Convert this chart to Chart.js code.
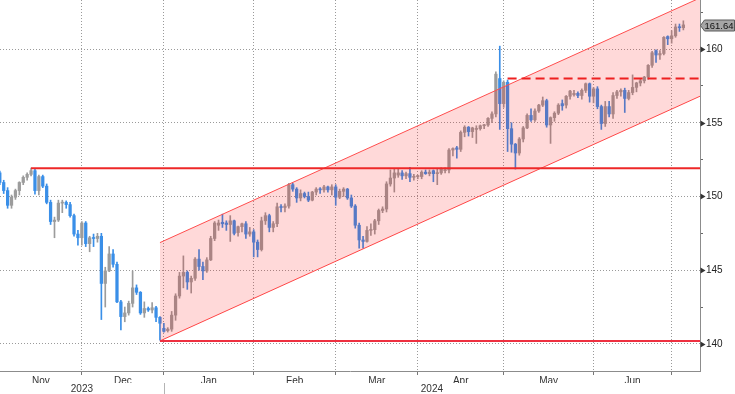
<!DOCTYPE html>
<html><head><meta charset="utf-8">
<script src="https://cdn.jsdelivr.net/npm/chart.js@4.4.1/dist/chart.umd.min.js"></script>
<style>html,body{margin:0;padding:0;background:#fff;overflow:hidden}#wrap{width:735px;height:394px}</style>
</head><body><div id="wrap"><canvas id="c" width="735" height="394"></canvas></div>
<script>
// Daily USD/JPY candles, one per weekday from Nov 1 2023 (index 0) to Jul 3 2024 (index 175)
const opens = [
151.6,150.95,150.4,149.4,149.95,150.4,150.95,151.3,151.5,151.75,
150.4,151.35,150.7,149.6,148.3,148.4,149.55,149.6,149.45,148.7,
147.45,147.2,148.2,146.8,147.2,147.15,147.3,144.1,144.95,146.1,
145.4,142.85,141.85,142.1,142.75,143.8,143.5,142.1,142.4,142.3,
142.45,141.8,141.05,140.9,141.0,141.95,143.25,144.6,144.85,144.2,
144.45,145.75,145.25,144.95,145.7,147.15,148.05,148.25,148.2,148.1,
148.35,147.55,147.95,148.15,147.45,147.6,146.9,146.4,148.35,148.7,
147.9,148.15,149.3,149.25,149.35,150.8,150.5,149.9,150.2,150.0,
149.75,150.3,150.5,150.45,150.65,150.45,150.65,149.95,150.35,150.5,
149.9,149.35,148.05,147.05,146.95,147.7,147.75,148.35,149.05,149.15,
150.85,151.25,151.45,151.6,151.4,151.55,151.3,151.35,151.35,151.65,
151.55,151.75,151.55,151.6,151.75,151.8,153.15,153.3,153.2,154.35,
154.7,154.4,154.55,154.6,154.8,154.85,155.3,155.6,158.0,156.3,
157.75,154.6,153.55,152.95,153.9,154.65,155.5,155.2,155.8,156.2,
156.5,154.85,155.35,155.65,156.3,156.2,156.8,156.9,157.0,156.85,
157.2,157.65,156.8,157.3,156.1,154.95,156.1,155.6,156.85,157.1,
157.2,156.65,157.05,157.4,157.7,157.85,158.1,158.9,159.9,159.6,
159.7,160.85,160.7,160.9,161.5,161.45];
const highs = [
151.72,151.1,150.6,150.1,150.5,151.0,151.4,151.6,151.92,151.85,
151.45,151.45,150.85,149.75,148.6,149.75,149.75,149.7,149.6,148.8,
147.7,148.3,148.3,147.3,147.45,147.5,147.5,145.2,146.6,146.4,
145.55,142.95,142.5,142.9,144.95,144.0,143.55,142.85,142.5,142.8,
142.55,141.85,141.4,141.1,142.2,143.4,144.85,145.97,144.95,144.6,
145.85,146.4,145.55,145.85,147.3,148.3,148.4,148.8,148.35,148.7,
148.4,148.0,148.2,148.3,147.9,147.75,147.05,148.6,148.9,148.8,
148.3,149.55,149.45,149.5,150.9,150.9,150.6,150.45,150.3,150.3,
150.35,150.6,150.6,150.75,150.7,150.8,150.8,150.5,150.6,150.55,
150.1,149.45,148.2,147.3,147.95,148.15,148.45,149.15,149.3,151.0,
151.8,151.85,151.85,151.75,151.65,151.97,151.5,151.45,151.75,151.8,
151.8,151.8,151.85,151.95,151.95,153.25,153.3,153.4,154.45,154.8,
154.75,154.7,154.8,154.85,154.9,155.35,155.75,158.45,160.2,157.85,
157.9,155.0,153.6,154.0,154.75,155.6,155.95,155.95,156.25,156.75,
156.6,155.4,155.75,156.3,156.55,156.85,157.2,157.2,157.1,157.3,
157.7,157.7,157.4,157.45,156.2,156.45,156.45,157.05,157.2,157.3,
157.35,157.2,158.25,157.75,158.0,158.15,158.95,159.85,159.95,159.9,
160.85,160.9,161.25,161.7,161.7,161.92];
const lows = [
150.8,150.2,149.2,149.2,149.8,150.1,150.8,151.1,151.4,150.15,
150.1,150.6,149.5,148.1,147.2,148.3,148.9,149.2,148.6,147.3,
146.7,146.7,146.6,146.25,146.6,146.9,141.65,142.5,144.9,145.2,
142.8,140.95,141.5,141.95,142.5,143.35,142.0,141.8,142.2,142.1,
141.5,140.25,140.8,140.8,140.85,141.6,143.1,143.8,143.7,143.45,
144.3,145.0,144.35,144.85,145.65,147.0,147.7,147.9,147.7,146.95,
147.4,147.3,147.6,147.15,147.3,145.9,145.9,146.3,148.1,147.6,
147.6,147.95,148.95,148.95,149.2,150.35,149.6,149.7,149.9,149.65,
149.7,150.1,150.2,150.3,150.3,150.1,149.4,149.85,150.0,149.8,
149.25,147.85,146.5,146.5,146.9,147.35,147.45,148.1,148.9,148.95,
150.7,150.3,151.3,151.15,151.2,151.0,151.1,151.2,151.2,151.5,
151.4,151.0,150.8,151.5,151.6,151.6,152.75,152.6,153.05,154.05,
154.1,154.0,153.6,154.5,154.6,154.75,155.0,155.4,154.55,156.05,
153.05,153.0,151.86,152.8,153.7,154.6,155.1,155.1,155.7,156.1,
154.7,153.6,155.1,155.55,155.85,156.0,156.6,156.8,156.7,156.6,
157.05,156.4,156.35,155.95,154.55,154.75,155.4,155.3,156.65,156.8,
155.7,156.55,156.9,157.1,157.5,157.7,157.95,158.75,159.1,159.3,
159.6,160.3,160.4,160.8,161.2,161.3];
const closes = [
150.95,150.4,149.4,149.95,150.4,150.95,151.3,151.5,151.75,150.4,
151.35,150.7,149.6,148.3,148.4,149.55,149.6,149.45,148.7,147.45,
147.2,148.2,146.8,147.2,147.15,147.3,144.1,144.95,146.1,145.4,
142.85,141.85,142.1,142.75,143.8,143.5,142.1,142.4,142.3,142.45,
141.8,141.4,140.85,141.0,141.95,143.25,144.6,144.85,144.2,144.45,
145.75,145.25,144.95,145.7,147.15,148.2,148.2,148.15,148.1,148.35,
147.5,147.95,148.15,147.45,147.6,146.9,146.4,148.35,148.7,147.9,
148.15,149.3,149.25,149.35,150.8,150.5,149.9,150.2,150.0,149.75,
150.3,150.5,150.45,150.65,150.45,150.65,149.95,150.35,150.5,149.9,
149.35,148.05,147.05,146.95,147.7,147.75,148.35,149.05,149.15,150.85,
151.25,151.6,151.6,151.4,151.55,151.3,151.35,151.4,151.65,151.55,
151.65,151.55,151.6,151.85,151.8,153.15,153.25,153.2,154.35,154.7,
154.4,154.65,154.6,154.8,154.85,155.3,155.6,158.3,156.3,157.75,
154.6,153.55,152.95,153.9,154.65,155.5,155.2,155.8,156.2,156.5,
154.85,155.35,155.65,156.2,156.15,156.8,157.15,157.0,156.85,157.2,
157.65,156.8,157.3,156.1,154.95,156.1,155.6,156.85,157.1,157.2,
156.65,157.05,157.4,157.7,157.85,158.1,158.9,159.75,159.6,159.7,
160.8,160.7,160.9,161.5,161.45,161.64];

const monthLabels = ['Nov','Dec','Jan','Feb','Mar','Apr','May','Jun'];
const monthStarts = [0,22,43,66,87,108,130,153,173]; // first weekday index of each month (last = Jul)
const yearLabels = ['2023','2024'];
const yearStarts = [0,43];
const yTickValues = [140,142.5,145,147.5,150,152.5,155,157.5,160,162.5];

// drawn technical levels
const resistanceLevel = 151.92, resistanceFrom = 8;
const supportLevel = 140.2, supportFrom = 41;
const dashedLevel = 158.0, dashedFrom = 130;
const channelX = [41, 185];
const channelLower = [140.2, 157.49];
const channelUpper = [146.87, 164.16];
const lastPrice = 161.64;

const X_MIN = 0.05, X_MAX = 179.26, Y_MIN = 138.16, Y_MAX = 163.33, X_END = 185;
const FONT = "'Liberation Sans Narrow','Liberation Sans',Arial,sans-serif";
const UP = '#9c9c9c', DOWN = '#3a8fe8';

const idx = closes.map((_, i) => i);
const isUp = i => closes[i] >= opens[i];
const candleColor = c => isUp(c.dataIndex) ? UP : DOWN;

const boundaries = monthStarts.slice(1).map(s => s - 1);
const key = v => Number(v).toFixed(3);
const xLabelMap = {};
const xTickVals = boundaries.slice();
monthLabels.forEach((m, i) => {
  const left = i === 0 ? X_MIN : monthStarts[i] - 1;
  const right = monthStarts[i + 1] - 1;
  const mid = (left + right) / 2;
  xLabelMap[key(mid)] = m;
  xTickVals.push(mid);
});
xTickVals.sort((a, b) => a - b);
const boundarySet = new Set(boundaries.map(key));
const isBoundary = v => boundarySet.has(key(v));
const yearMids = yearLabels.map((y, i) => {
  const left = i === 0 ? X_MIN : yearStarts[i] - 1;
  const right = i + 1 < yearStarts.length ? yearStarts[i + 1] - 1 : X_MAX;
  return (left + right) / 2;
});

const decor = {
  id: 'decor',
  afterDraw(chart) {
    const c = chart.ctx, ys = chart.scales.y, xs = chart.scales.x;
    const ax = Math.round(ys.left) + 0.5;
    c.save();
    // arrow markers at major ticks
    c.fillStyle = '#333';
    yTickValues.filter(v => v % 5 === 0).forEach(v => {
      const py = Math.round(ys.getPixelForValue(v));
      c.beginPath();
      c.moveTo(ax, py - 2.5); c.lineTo(ax + 5, py + 0.5); c.lineTo(ax, py + 3.5);
      c.closePath(); c.fill();
    });
    // year separator
    const sx = Math.round(xs.getPixelForValue(yearStarts[1] - 1)) + 0.5;
    c.strokeStyle = '#b4b4b4'; c.lineWidth = 1;
    c.beginPath(); c.moveTo(sx, 383); c.lineTo(sx, 394); c.stroke();
    // last price tag
    const yc = Math.round(ys.getPixelForValue(lastPrice)) + 0.5;
    c.beginPath();
    c.moveTo(ax, yc); c.lineTo(ax + 4, yc - 5.5); c.lineTo(734.5, yc - 5.5);
    c.lineTo(734.5, yc + 5.5); c.lineTo(ax + 4, yc + 5.5); c.closePath();
    c.fillStyle = '#a6a6a6'; c.fill();
    c.strokeStyle = '#5a5a5a'; c.stroke();
    c.fillStyle = '#111'; c.font = '9.5px ' + FONT;
    c.textAlign = 'center'; c.textBaseline = 'middle';
    c.fillText(lastPrice.toFixed(2), 719, yc + 0.5);
    c.restore();
  }
};

const lineDs = (label, pts, color, width, extra) => Object.assign({
  type: 'line', label, data: pts, borderColor: color, borderWidth: width,
  pointRadius: 0, fill: false, tension: 0, order: 1
}, extra || {});

new Chart(document.getElementById('c'), {
  type: 'bar',
  data: {
    datasets: [
      { label: 'wick', data: idx.map(i => ({ x: i, y: [lows[i], highs[i]] })),
        backgroundColor: candleColor, barThickness: 1, maxBarThickness: 1,
        grouped: false, borderWidth: 0, order: 10 },
      { label: 'body', data: idx.map(i => ({ x: i, y: [opens[i], closes[i]] })),
        backgroundColor: candleColor, barThickness: 3, maxBarThickness: 2.6,
        minBarLength: 1, grouped: false, borderWidth: 0, order: 9 },
      lineDs('lower', channelX.map((x, k) => ({ x, y: channelLower[k] })), '#ff4d4d', 1, { order: 3 }),
      lineDs('upper', channelX.map((x, k) => ({ x, y: channelUpper[k] })), '#ff4d4d', 1,
        { order: 2, fill: { target: 2 }, backgroundColor: 'rgba(255,0,0,0.15)' }),
      lineDs('resistance', [{ x: resistanceFrom, y: resistanceLevel }, { x: X_END, y: resistanceLevel }], '#ee2828', 2),
      lineDs('support', [{ x: supportFrom, y: supportLevel }, { x: X_END, y: supportLevel }], '#ee3040', 2),
      lineDs('dashed', [{ x: dashedFrom, y: dashedLevel }, { x: X_END, y: dashedLevel }], '#ee2020', 2, { borderDash: [9, 5] })
    ]
  },
  options: {
    responsive: false, animation: false, devicePixelRatio: 1,
    layout: { padding: 0 },
    plugins: { legend: { display: false }, tooltip: { enabled: false } },
    scales: {
      x: {
        type: 'linear', position: 'bottom', min: X_MIN, max: X_MAX, offset: false,
        afterBuildTicks: s => { s.ticks = xTickVals.map(v => ({ value: v })); },
        afterFit: s => { s.height = 12; s.paddingLeft = 0; s.paddingRight = 0; },
        ticks: { autoSkip: false, maxRotation: 0, minRotation: 0, padding: 0,
          font: { size: 10, family: FONT }, color: '#333',
          callback: v => xLabelMap[key(v)] || '' },
        grid: {
          offset: false,
          color: c => (c.tick && isBoundary(c.tick.value)) ? '#9a9a9a' : 'rgba(0,0,0,0)',
          tickColor: c => (c.tick && isBoundary(c.tick.value)) ? '#777' : 'rgba(0,0,0,0)',
          tickLength: 4, lineWidth: 1
        },
        border: { display: true, color: '#8c8c8c', width: 1, dash: [1, 2] }
      },
      x2: {
        type: 'linear', position: 'bottom', min: X_MIN, max: X_MAX, offset: false,
        afterBuildTicks: s => { s.ticks = yearMids.map(v => ({ value: v })); },
        afterFit: s => { s.height = 11; s.paddingLeft = 0; s.paddingRight = 0; },
        ticks: { autoSkip: false, maxRotation: 0, minRotation: 0, padding: 0,
          font: { size: 10, family: FONT }, color: '#333',
          callback: (v, i) => yearLabels[i] },
        grid: { display: false, drawTicks: false, offset: false },
        border: { display: false }
      },
      y: {
        type: 'linear', position: 'right', min: Y_MIN, max: Y_MAX,
        afterBuildTicks: s => { s.ticks = yTickValues.map(v => ({ value: v })); },
        afterFit: s => { s.width = 35; s.paddingTop = 0; s.paddingBottom = 0; },
        ticks: { padding: 3, font: { size: 10, family: FONT }, color: '#222',
          callback: v => (v % 5 === 0 ? String(v) : '') },
        grid: {
          color: c => (c.tick && c.tick.value % 5 === 0) ? '#9a9a9a' : 'rgba(0,0,0,0)',
          tickColor: c => (c.tick && c.tick.value % 5 === 0) ? 'rgba(0,0,0,0)' : '#666',
          tickLength: 3, lineWidth: 1
        },
        border: { display: true, color: '#8c8c8c', width: 1, dash: [1, 2] }
      }
    }
  },
  plugins: [decor]
});
</script>
</body></html>
